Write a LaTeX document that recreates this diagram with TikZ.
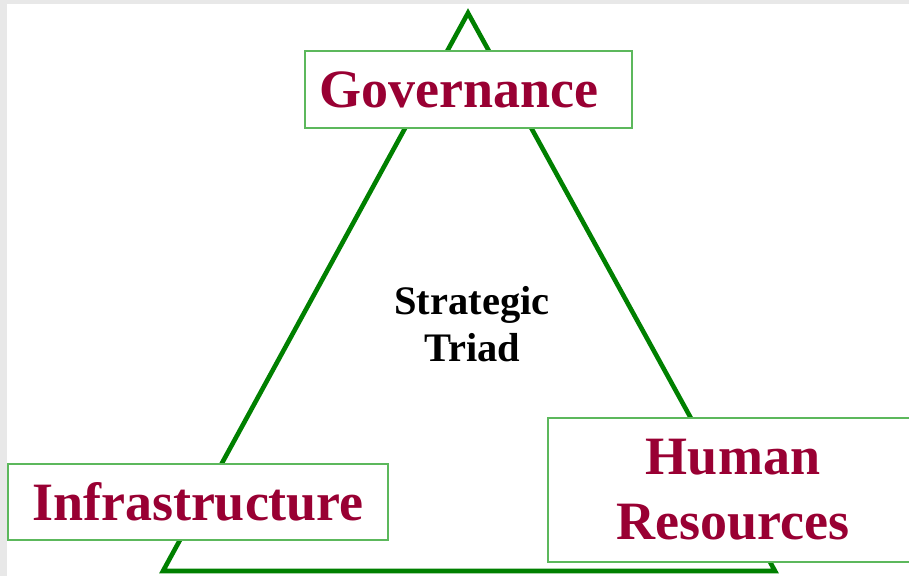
\documentclass[tikz,border=0pt]{standalone}
\usepackage{fontspec}
\setmainfont{Liberation Serif}
\definecolor{labelred}{HTML}{990033}
\definecolor{trigreen}{HTML}{008000}
\definecolor{boxgreen}{HTML}{5CB85C}
\definecolor{framegray}{HTML}{E8E8E8}
\begin{document}
\begin{tikzpicture}[x=1pt,y=-1pt,
  cornerbox/.style={draw=boxgreen,line width=1.6pt,fill=white,rectangle,inner sep=0pt,
    text=labelred,font=\bfseries\fontsize{54}{65}\selectfont,align=center},
  centertext/.style={inner sep=0pt,text=black,font=\bfseries\fontsize{40.5}{47}\selectfont,align=center}]
\useasboundingbox (0,0) rectangle (909,576);
\fill[framegray] (0,0) rectangle (909,576);
\fill[white] (7,4) rectangle (909,576);
\coordinate (apex) at (468,13);
\coordinate (bl) at (163,571);
\coordinate (br) at (775,571);
\draw[trigreen,line width=4.6pt,line join=miter] (apex) -- (bl) -- (br) -- cycle;
\node[cornerbox,minimum width=327pt,minimum height=77pt] (gov) at (468.5,89.5) {Governance\hspace{20pt}};
\node[cornerbox,minimum width=380pt,minimum height=76pt] (infra) at (198,502) {Infrastructure};
\node[cornerbox,minimum width=370pt,minimum height=144pt] (hr) at (733,490) {Human\\Resources};
\node[centertext] (triad) at (472,324) {Strategic\\Triad};
\end{tikzpicture}
\end{document}
